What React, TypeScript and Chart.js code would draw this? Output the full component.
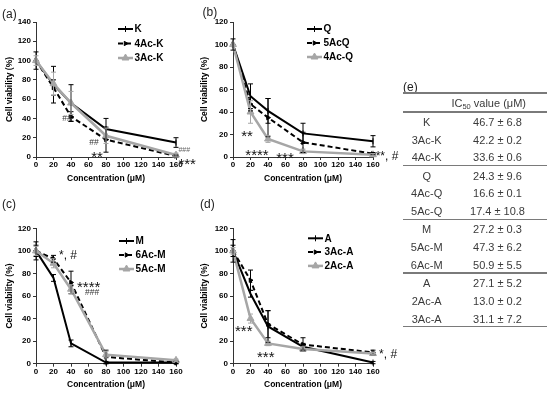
import React, { useEffect, useRef } from 'react';
import { Chart, registerables } from 'chart.js';
import { drawPoint } from 'chart.js/helpers';

Chart.register(...registerables);

const FONT = '"Liberation Sans", Arial, Helvetica, sans-serif';

// ---------- data ----------
const CONC = [0, 20, 40, 80, 160];

// (a)
const K_MEAN = [100, 75, 56, 29, 15];
const K_SD = [9, 19, 19, 11, 5];
const AC4K_MEAN = [100, 72, 42, 18, 1];
const AC4K_SD = [0, 8, 5, 13, 1];
const AC3K_MEAN = [100, 76, 56, 22, 2];
const AC3K_SD = [5, 12, 12, 8, 2];

// (b)
const Q_MEAN = [100, 54, 41, 21, 14];
const Q_SD = [5, 11, 11, 9, 5];
const AC5Q_MEAN = [100, 47, 35, 13, 3];
const AC5Q_SD = [0, 6, 17, 9, 1];
const AC4Q_MEAN = [100, 40, 16, 5, 2];
const AC4Q_SD = [0, 10, 3, 2, 1];

// (c)
const M_MEAN = [100, 76, 18, 1, 1];
const M_SD = [8, 3, 3, 1, 1];
const AC6M_MEAN = [100, 93, 72, 6, 1];
const AC6M_SD = [5, 3, 10, 6, 1];
const AC5M_MEAN = [100, 89, 66, 8, 3];
const AC5M_SD = [4, 4, 4, 3, 1];

// (d)
const A_MEAN = [100, 62, 33, 15, 1];
const A_SD = [10, 3, 14, 3, 1];
const AC3A_MEAN = [100, 74, 35, 17, 10];
const AC3A_SD = [5, 9, 12, 6, 2];
const AC2A_MEAN = [100, 40, 18, 13, 9];
const AC2A_SD = [3, 4, 2, 2, 1];

// (e) table
const IC50_NAMES = ['K', '3Ac-K', '4Ac-K', 'Q', '4Ac-Q', '5Ac-Q', 'M', '5Ac-M', '6Ac-M', 'A', '2Ac-A', '3Ac-A'];
const IC50_MEAN = [46.7, 42.2, 33.6, 24.3, 16.6, 17.4, 27.2, 47.3, 50.9, 27.1, 13.0, 31.1];
const IC50_SD = [6.8, 0.2, 0.6, 9.6, 0.1, 10.8, 0.3, 6.2, 5.5, 5.2, 0.2, 7.2];

// ---------- styles ----------
const STYLES = [
  { color: '#000000', width: 2, dash: [] as number[], pointStyle: 'line', rotation: 90, radius: 3, order: 3 },
  { color: '#000000', width: 2, dash: [5, 3], pointStyle: 'triangle', rotation: 90, radius: 2.5, order: 2 },
  { color: '#a6a6a6', width: 2.5, dash: [] as number[], pointStyle: 'triangle', rotation: 0, radius: 4, order: 1 },
];

type Series = { label: string; mean: number[]; sd: number[] };
type Note = { text: string; x: number; y: number; size: number; align: CanvasTextAlign; color?: string };
type Panel = {
  key: string;
  series: Series[];
  yMax: number;
  geom: { left: number; top: number; width: number; height: number; areaLeft: number; areaTop: number; areaRight: number; areaBottom: number; xTitleY: number };
  legend: { dx: number; dy: number; gap: number };
  notes: Note[];
};

const PANELS: Panel[] = [
  {
    key: 'a',
    series: [
      { label: 'K', mean: K_MEAN, sd: K_SD },
      { label: '4Ac-K', mean: AC4K_MEAN, sd: AC4K_SD },
      { label: '3Ac-K', mean: AC3K_MEAN, sd: AC3K_SD },
    ],
    yMax: 140,
    geom: { left: 0, top: 0, width: 200, height: 190, areaLeft: 36, areaTop: 22, areaRight: 176, areaBottom: 157, xTitleY: 179 },
    legend: { dx: 82, dy: 7, gap: 14.5 },
    notes: [
      { text: '##', x: 35.4, y: 40.5, size: 8.5, align: 'center', color: '#333' },
      { text: '##', x: 66.3, y: 15.6, size: 8.5, align: 'center', color: '#333' },
      { text: '**', x: 69.7, y: 4.1, size: 15, align: 'center' },
      { text: '###', x: 162.8, y: 8.0, size: 7, align: 'left', color: '#666' },
      { text: '***', x: 162.8, y: -3.8, size: 15, align: 'left' },
    ],
  },
  {
    key: 'b',
    series: [
      { label: 'Q', mean: Q_MEAN, sd: Q_SD },
      { label: '5AcQ', mean: AC5Q_MEAN, sd: AC5Q_SD },
      { label: '4Ac-Q', mean: AC4Q_MEAN, sd: AC4Q_SD },
    ],
    yMax: 120,
    geom: { left: 195, top: 0, width: 210, height: 190, areaLeft: 233, areaTop: 22, areaRight: 373, areaBottom: 157, xTitleY: 179 },
    legend: { dx: 74, dy: 7, gap: 14 },
    notes: [
      { text: '**', x: 16, y: 22.2, size: 15, align: 'center' },
      { text: '****', x: 27.4, y: 4.7, size: 15, align: 'center' },
      { text: '***', x: 59.4, y: 2.7, size: 15, align: 'center' },
      { text: '**, #', x: 163, y: 2.2, size: 12, align: 'left' },
    ],
  },
  {
    key: 'c',
    series: [
      { label: 'M', mean: M_MEAN, sd: M_SD },
      { label: '6Ac-M', mean: AC6M_MEAN, sd: AC6M_SD },
      { label: '5Ac-M', mean: AC5M_MEAN, sd: AC5M_SD },
    ],
    yMax: 120,
    geom: { left: 0, top: 190, width: 200, height: 206, areaLeft: 36, areaTop: 228.3, areaRight: 176, areaBottom: 363.7, xTitleY: 385 },
    legend: { dx: 83, dy: 12.7, gap: 14 },
    notes: [
      { text: '*, #', x: 26.3, y: 97.9, size: 12, align: 'left' },
      { text: '****', x: 46.9, y: 71.3, size: 15, align: 'left' },
      { text: '###', x: 56, y: 64, size: 8.5, align: 'left', color: '#333' },
    ],
  },
  {
    key: 'd',
    series: [
      { label: 'A', mean: A_MEAN, sd: A_SD },
      { label: '3Ac-A', mean: AC3A_MEAN, sd: AC3A_SD },
      { label: '2Ac-A', mean: AC2A_MEAN, sd: AC2A_SD },
    ],
    yMax: 120,
    geom: { left: 195, top: 190, width: 210, height: 206, areaLeft: 233, areaTop: 228.3, areaRight: 373, areaBottom: 363.7, xTitleY: 385 },
    legend: { dx: 75, dy: 10, gap: 13.8 },
    notes: [
      { text: '***', x: 2.3, y: 32.5, size: 15, align: 'left' },
      { text: '***', x: 27.4, y: 9.5, size: 15, align: 'left' },
      { text: '*, #', x: 166.9, y: 9.5, size: 12, align: 'left' },
    ],
  },
];

function makeExtras(p: Panel) {
  return {
    id: 'panelExtras' + p.key,
    afterDatasetsDraw(chart: any) {
      const { ctx } = chart;
      const xs = chart.scales.x;
      const ys = chart.scales.y;
      p.series.forEach((s, i) => {
        const st = STYLES[i];
        ctx.save();
        ctx.strokeStyle = st.color;
        ctx.lineWidth = 1;
        ctx.setLineDash([]);
        CONC.forEach((cx, j) => {
          const e = s.sd[j];
          if (!e) return;
          const x = xs.getPixelForValue(cx);
          const y1 = ys.getPixelForValue(s.mean[j] + e);
          const y2 = ys.getPixelForValue(s.mean[j] - e);
          ctx.beginPath();
          ctx.moveTo(x, y1);
          ctx.lineTo(x, y2);
          ctx.moveTo(x - 2.5, y1);
          ctx.lineTo(x + 2.5, y1);
          ctx.moveTo(x - 2.5, y2);
          ctx.lineTo(x + 2.5, y2);
          ctx.stroke();
        });
        ctx.restore();
      });
    },
    afterDraw(chart: any) {
      const { ctx, chartArea } = chart;
      const xs = chart.scales.x;
      const ys = chart.scales.y;
      // legend
      const lx = chartArea.left + p.legend.dx;
      p.series.forEach((s, i) => {
        const st = STYLES[i];
        const y = chartArea.top + p.legend.dy + i * p.legend.gap;
        ctx.save();
        ctx.strokeStyle = st.color;
        ctx.lineWidth = st.width;
        ctx.setLineDash(st.dash);
        ctx.beginPath();
        ctx.moveTo(lx, y);
        ctx.lineTo(lx + 15, y);
        ctx.stroke();
        ctx.setLineDash([]);
        ctx.fillStyle = st.color;
        ctx.strokeStyle = st.color;
        ctx.lineWidth = 1;
        drawPoint(ctx, { pointStyle: st.pointStyle as any, rotation: st.rotation, radius: st.radius, borderWidth: 1 } as any, lx + 7.5, y);
        ctx.fillStyle = '#000';
        ctx.font = `bold 10px ${FONT}`;
        ctx.textAlign = 'left';
        ctx.textBaseline = 'middle';
        ctx.fillText(s.label, lx + 16.5, y + 0.5);
        ctx.restore();
      });
      // significance notes
      p.notes.forEach((n) => {
        const x = xs.getPixelForValue(n.x);
        const y = ys.getPixelForValue(n.y);
        const hasStar = n.text.includes('*');
        const hasHash = n.text.includes('#');
        const shift = hasStar && hasHash ? 0.45 : hasStar ? 0.575 : 0.36;
        ctx.save();
        ctx.fillStyle = n.color || '#111';
        ctx.font = `${n.size}px ${FONT}`;
        ctx.textAlign = n.align;
        ctx.textBaseline = 'alphabetic';
        ctx.fillText(n.text, x, y + shift * n.size);
        ctx.restore();
      });
    },
  };
}

function PanelChart({ p }: { p: Panel }) {
  const ref = useRef<HTMLCanvasElement>(null);
  const g = p.geom;
  useEffect(() => {
    const c = ref.current;
    if (!c) return;
    const titleSize = 8.5;
    const lh = titleSize * 1.2;
    const scaleBottom = g.xTitleY + lh / 2;
    const titleFont = { family: FONT, size: titleSize, weight: 'bold' as const };
    const tickFont = { family: FONT, size: 8, weight: 'bold' as const };
    const gridOpts = { display: true, drawOnChartArea: false, drawTicks: true, tickLength: 3, color: '#333', lineWidth: 1 };
    const borderOpts = { display: true, color: '#333', width: 1 };
    const chart = new Chart(c, {
      type: 'line',
      data: {
        datasets: p.series.map((s, i) => {
          const st = STYLES[i];
          return {
            label: s.label,
            data: CONC.map((x, j) => ({ x, y: s.mean[j] })),
            borderColor: st.color,
            backgroundColor: st.color,
            borderWidth: st.width,
            borderDash: st.dash,
            pointStyle: st.pointStyle as any,
            pointRotation: st.rotation,
            pointRadius: st.radius,
            pointBackgroundColor: st.color,
            pointBorderColor: st.color,
            pointBorderWidth: 1,
            tension: 0,
            fill: false,
            clip: false as any,
            order: st.order,
          };
        }),
      },
      options: {
        responsive: false,
        animation: false,
        devicePixelRatio: 1,
        layout: {
          padding: {
            left: 0,
            top: g.areaTop - g.top,
            right: g.left + g.width - g.areaRight,
            bottom: g.top + g.height - scaleBottom,
          },
        },
        plugins: { legend: { display: false }, tooltip: { enabled: false } },
        scales: {
          x: {
            type: 'linear',
            min: 0,
            max: 160,
            afterFit: (s: any) => {
              s.height = scaleBottom - g.areaBottom;
            },
            ticks: { stepSize: 20, font: tickFont, color: '#000', padding: 0, maxRotation: 0, autoSkip: false },
            grid: gridOpts,
            border: borderOpts,
            title: { display: true, text: 'Concentration (μM)', font: titleFont, color: '#000', padding: { top: 0, bottom: 0 } },
          },
          y: {
            type: 'linear',
            min: 0,
            max: p.yMax,
            afterFit: (s: any) => {
              s.width = g.areaLeft - g.left;
            },
            ticks: { stepSize: 20, font: tickFont, color: '#000', padding: 2 },
            grid: gridOpts,
            border: borderOpts,
            title: { display: true, text: 'Cell viability (%)', font: titleFont, color: '#000', padding: { top: 5, bottom: 0 } },
          },
        },
      } as any,
      plugins: [makeExtras(p)],
    });
    return () => chart.destroy();
  }, [p]);
  return (
    <canvas
      ref={ref}
      width={g.width}
      height={g.height}
      style={{ position: 'absolute', left: g.left, top: g.top, width: g.width, height: g.height }}
    />
  );
}

const LETTERS = [
  { text: '(a)', left: 2, cy: 14 },
  { text: '(b)', left: 202.5, cy: 12 },
  { text: '(c)', left: 2, cy: 204 },
  { text: '(d)', left: 200, cy: 204 },
];

function Ic50Table() {
  const left = 403;
  const width = 144;
  const nameX = 426.7;
  const valX = 497.5;
  const lines = [93, 112, 165.7, 219.4, 273.1, 326.8];
  const textColor = '#3a3a3a';
  const cell = (text: React.ReactNode, cx: number, cy: number, key: string, w = 80) => (
    <div
      key={key}
      style={{
        position: 'absolute',
        left: cx - w / 2,
        width: w,
        top: cy - 7,
        height: 14,
        lineHeight: '14px',
        textAlign: 'center',
        fontSize: 11,
        color: textColor,
        whiteSpace: 'nowrap',
      }}
    >
      {text}
    </div>
  );
  const rows: React.ReactNode[] = [];
  IC50_NAMES.forEach((name, i) => {
    const grp = Math.floor(i / 3);
    const j = i % 3;
    const cy = lines[grp + 1] + 9.8 + 17.8 * j;
    rows.push(cell(name, nameX, cy, 'n' + i));
    rows.push(cell(`${IC50_MEAN[i].toFixed(1)} ± ${IC50_SD[i].toFixed(1)}`, valX, cy, 'v' + i));
  });
  return (
    <>
      <div style={{ position: 'absolute', left: 403, top: 80, height: 14, lineHeight: '14px', fontSize: 12, color: '#222' }}>(e)</div>
      {lines.map((y, i) => (
        <div key={'l' + i} style={{ position: 'absolute', left, width, top: y - 0.7, height: 1.4, background: '#7a7a7a' }} />
      ))}
      {cell(
        <span>
          IC<span style={{ fontSize: 7.5, position: 'relative', top: 2 }}>50</span> value (μM)
        </span>,
        488.7,
        103,
        'hdr',
        110
      )}
      {rows}
    </>
  );
}

export default function App() {
  return (
    <div
      style={{
        position: 'fixed',
        left: 0,
        top: 0,
        width: 550,
        height: 396,
        background: '#ffffff',
        fontFamily: FONT,
        overflow: 'hidden',
      }}
    >
      {PANELS.map((p) => (
        <PanelChart key={p.key} p={p} />
      ))}
      {LETTERS.map((l) => (
        <div
          key={l.text}
          style={{ position: 'absolute', left: l.left, top: l.cy - 7, height: 14, lineHeight: '14px', fontSize: 12, color: '#222' }}
        >
          {l.text}
        </div>
      ))}
      <Ic50Table />
    </div>
  );
}
